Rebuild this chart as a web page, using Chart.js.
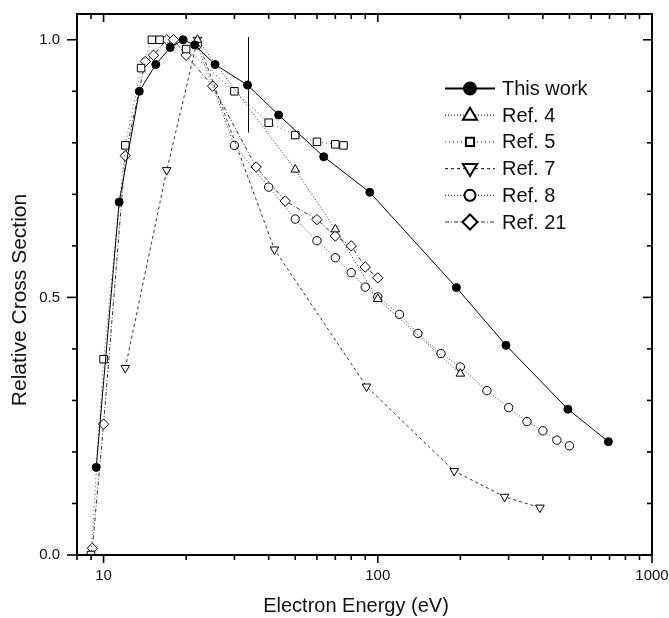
<!DOCTYPE html>
<html><head><meta charset="utf-8">
<script src="https://cdn.jsdelivr.net/npm/chart.js@4/dist/chart.umd.min.js"></script>
<style>html,body{margin:0;padding:0;background:#fff;}#wrap{width:669px;height:618px;}</style>
</head><body><div id="wrap"><canvas id="c" width="669" height="618"></canvas></div>
<script>
// ---- data ----
const thisWorkE = [9.4, 11.4, 13.5, 15.5, 17.5, 19.5, 21.5, 25.5, 33.5, 43.5, 63.5, 93.5, 193.5, 293.5, 493.5, 693.5];
const thisWorkV = [0.17, 0.685, 0.90, 0.952, 0.985, 1.0, 0.99, 0.952, 0.912, 0.854, 0.773, 0.704, 0.519, 0.407, 0.283, 0.22];
const errE = [33.5];
const errLow = [0.82];
const errHigh = [1.005];

const ref4E = [22, 50, 70, 100, 200];
const ref4V = [1.0, 0.748, 0.632, 0.497, 0.352];

const ref5E = [9, 10, 12, 13.7, 15, 16, 20, 30, 40, 50, 60, 70, 75];
const ref5V = [0.0, 0.38, 0.795, 0.945, 1.0, 1.0, 0.982, 0.90, 0.839, 0.815, 0.802, 0.797, 0.795];

const ref7E = [12, 17, 22, 42, 91, 190, 290, 390];
const ref7V = [0.363, 0.747, 1.0, 0.593, 0.327, 0.163, 0.113, 0.092];

const ref8E = [22, 30, 40, 50, 60, 70, 80, 90, 100, 120, 140, 170, 200, 250, 300, 350, 400, 450, 500];
const ref8V = [0.99, 0.795, 0.714, 0.652, 0.61, 0.577, 0.548, 0.52, 0.501, 0.467, 0.43, 0.391, 0.365, 0.319, 0.286, 0.259, 0.241, 0.223, 0.212];

const ref21E = [9.1, 10, 12, 14.2, 15.2, 17, 18, 20, 25, 36, 46, 60, 70, 80, 90, 100];
const ref21V = [0.013, 0.254, 0.775, 0.958, 0.97, 1.0, 1.0, 0.97, 0.91, 0.753, 0.687, 0.651, 0.619, 0.600, 0.559, 0.538];

const seriesNames = ['This work', 'Ref. 4', 'Ref. 5', 'Ref. 7', 'Ref. 8', 'Ref. 21'];
const xMajorTicks = [10, 100, 1000];
const xMinorTicks = [8, 9, 20, 30, 40, 50, 60, 70, 80, 90, 200, 300, 400, 500, 600, 700, 800, 900];
const yMajorTicks = [0, 0.5, 1.0];
const yMinorTicks = [0.1, 0.2, 0.3, 0.4, 0.6, 0.7, 0.8, 0.9];
const xLabel = 'Electron Energy (eV)';
const yLabel = 'Relative Cross Section';

// ---- chart ----
const FONT = '"Liberation Sans", Arial, Helvetica, sans-serif';
const pts = (E, V) => E.map((e, i) => ({x: e, y: V[i]}));

const styles = [
  {pointStyle: 'circle', rot: 0, r: 4, fill: '#000', dash: [], line: '#000'},
  {pointStyle: 'triangle', rot: 0, r: 5, fill: '#fff', dash: [1, 2], line: '#333'},
  {pointStyle: 'rect', rot: 0, r: 5.3, fill: '#fff', dash: [1, 3], line: '#555'},
  {pointStyle: 'triangle', rot: 180, r: 5, fill: '#fff', dash: [3, 3], line: '#333'},
  {pointStyle: 'circle', rot: 0, r: 4.2, fill: '#fff', dash: [1, 2], line: '#444'},
  {pointStyle: 'rectRot', rot: 0, r: 5.2, fill: '#fff', dash: [4, 2, 1, 2], line: '#333'}
];
const allData = [pts(thisWorkE, thisWorkV), pts(ref4E, ref4V), pts(ref5E, ref5V), pts(ref7E, ref7V), pts(ref8E, ref8V), pts(ref21E, ref21V)];

const datasets = allData.map((d, i) => ({
  label: seriesNames[i],
  data: d,
  showLine: true,
  borderColor: styles[i].line,
  borderWidth: 1,
  borderDash: styles[i].dash,
  pointStyle: styles[i].pointStyle,
  pointRotation: styles[i].rot,
  pointRadius: styles[i].r,
  pointHoverRadius: styles[i].r,
  pointBorderColor: '#000',
  pointBackgroundColor: styles[i].fill,
  pointBorderWidth: 1,
  tension: 0
}));

function marker(ctx, style, x, y, r) {
  ctx.beginPath();
  if (style.pointStyle === 'circle') {
    ctx.arc(x, y, r, 0, Math.PI * 2);
  } else if (style.pointStyle === 'rect') {
    const s = r * Math.SQRT1_2;
    ctx.rect(x - s, y - s, 2 * s, 2 * s);
  } else if (style.pointStyle === 'rectRot') {
    ctx.moveTo(x - r, y); ctx.lineTo(x, y - r); ctx.lineTo(x + r, y); ctx.lineTo(x, y + r); ctx.closePath();
  } else if (style.pointStyle === 'triangle') {
    const s = style.rot === 180 ? -1 : 1;
    ctx.moveTo(x, y - s * r); ctx.lineTo(x + r * 0.95, y + s * r * 0.6); ctx.lineTo(x - r * 0.95, y + s * r * 0.6); ctx.closePath();
  }
  ctx.fillStyle = style.fill; ctx.fill();
  ctx.stroke();
}

const framePlugin = {
  id: 'frame',
  afterDatasetsDraw(chart) {
    const ctx = chart.ctx, a = chart.chartArea;
    const xs = chart.scales.x, ys = chart.scales.y;
    ctx.save();
    // error bar
    ctx.strokeStyle = '#000'; ctx.lineWidth = 1; ctx.setLineDash([]);
    errE.forEach((e, i) => {
      const px = Math.round(xs.getPixelForValue(e)) + 0.5;
      ctx.beginPath();
      ctx.moveTo(px, ys.getPixelForValue(errLow[i]));
      ctx.lineTo(px, ys.getPixelForValue(errHigh[i]));
      ctx.stroke();
    });
    // frame
    ctx.lineWidth = 2;
    ctx.strokeRect(a.left, a.top, a.right - a.left, a.bottom - a.top);
    // ticks
    ctx.lineWidth = 1.6;
    const tick = (x1, y1, x2, y2) => { ctx.beginPath(); ctx.moveTo(x1, y1); ctx.lineTo(x2, y2); ctx.stroke(); };
    xMajorTicks.forEach(v => { const p = xs.getPixelForValue(v); tick(p, a.bottom, p, a.bottom + 8); tick(p, a.top, p, a.top + 8); });
    xMinorTicks.forEach(v => { const p = xs.getPixelForValue(v); tick(p, a.bottom, p, a.bottom + 5); tick(p, a.top, p, a.top + 5); });
    yMajorTicks.forEach(v => { const p = ys.getPixelForValue(v); tick(a.left - 10, p, a.left, p); tick(a.right - 9, p, a.right, p); });
    yMinorTicks.forEach(v => { const p = ys.getPixelForValue(v); tick(a.left - 5, p, a.left, p); tick(a.right - 5, p, a.right, p); });
    ctx.restore();
  },
  afterDraw(chart) {
    const ctx = chart.ctx;
    ctx.save();
    // axis titles
    ctx.fillStyle = '#111';
    ctx.font = '20px ' + FONT;
    ctx.textAlign = 'center'; ctx.textBaseline = 'middle';
    ctx.fillText(xLabel, 356, 606);
    ctx.save();
    ctx.translate(20, 300);
    ctx.rotate(-Math.PI / 2);
    ctx.font = '21px ' + FONT;
    ctx.fillText(yLabel, 0, 0);
    ctx.restore();
    // legend
    const y0 = 88.5, step = 26.7, x1 = 445, x2 = 495, xm = 470, xt = 502;
    seriesNames.forEach((name, i) => {
      const st = styles[i];
      const y = y0 + i * step;
      ctx.strokeStyle = st.line; ctx.lineWidth = i === 0 ? 2 : 1.2; ctx.setLineDash(st.dash);
      ctx.beginPath(); ctx.moveTo(x1, y); ctx.lineTo(x2, y); ctx.stroke();
      ctx.setLineDash([]);
      ctx.strokeStyle = '#000'; ctx.lineWidth = 2;
      const r = [6, 7.5, 5.8, 7.5, 5.5, 7.5][i];
      marker(ctx, st, xm, y, r);
      ctx.fillStyle = '#111';
      ctx.font = '20px ' + FONT;
      ctx.textBaseline = 'middle'; ctx.textAlign = 'left';
      ctx.fillText(name, xt, y + 1);
    });
    ctx.restore();
  }
};

new Chart(document.getElementById('c'), {
  type: 'scatter',
  data: {datasets},
  options: {
    responsive: false,
    animation: false,
    events: [],
    layout: {padding: {left: 0, right: 17, top: 14, bottom: 0}},
    plugins: {legend: {display: false}, tooltip: {enabled: false}},
    scales: {
      x: {
        type: 'logarithmic', min: 8, max: 1000,
        afterBuildTicks: s => { s.ticks = xMajorTicks.map(v => ({value: v})); },
        afterFit: s => { s.height = 63; s.paddingLeft = 0; s.paddingRight = 0; },
        grid: {display: false, drawTicks: false},
        border: {display: false},
        ticks: {autoSkip: false, maxRotation: 0, padding: 12, color: '#111', font: {family: FONT, size: 15}, callback: v => String(v)},
        title: {display: false, text: xLabel}
      },
      y: {
        type: 'linear', min: 0, max: 1.05,
        afterBuildTicks: s => { s.ticks = yMajorTicks.map(v => ({value: v})); },
        afterFit: s => { s.width = 77; s.paddingTop = 0; s.paddingBottom = 0; },
        grid: {display: false, drawTicks: false},
        border: {display: false},
        ticks: {padding: 17, color: '#111', font: {family: FONT, size: 15}, callback: v => Number(v).toFixed(1)},
        title: {display: false, text: yLabel}
      }
    }
  },
  plugins: [framePlugin]
});
</script>
</body></html>
